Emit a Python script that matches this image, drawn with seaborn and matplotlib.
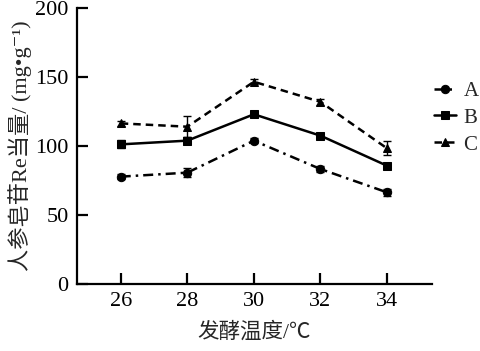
import pandas as pd
import matplotlib
matplotlib.use("Agg")
import matplotlib.pyplot as plt
import seaborn as sns

# ─── Data ─────────────────────────────────────────────────────────────────────
temps = [26, 28, 30, 32, 34]
groups = ["A", "B", "C"]
vals_a = [77.8, 80.7, 103.9, 83.3, 66.4]
vals_b = [101.2, 103.9, 123.0, 107.5, 85.7]
vals_c = [116.4, 114.0, 146.6, 132.0, 98.3]
err_a = [2.0, 3.5, 2.0, 2.0, 2.5]
err_b = [3.0, 2.5, 2.0, 2.0, 2.0]
err_c = [2.0, 7.5, 2.0, 2.0, 5.0]

x_label = "发酵温度/℃"
y_label = "人参皂苷Re当量/ (mg•g⁻¹)"

df = pd.DataFrame({
    "temp": temps * 3,
    "value": vals_a + vals_b + vals_c,
    "err": err_a + err_b + err_c,
    "group": [g for g in groups for _ in temps],
})

# ─── Style ────────────────────────────────────────────────────────────────────
sns.set_style("ticks")
plt.rcParams["font.family"] = ["Liberation Serif", "Noto Sans CJK SC", "DejaVu Serif"]
plt.rcParams.update({
    "axes.linewidth": 1.6,
    "xtick.direction": "in",
    "ytick.direction": "in",
    "xtick.major.size": 8,
    "ytick.major.size": 8,
    "xtick.major.width": 1.6,
    "ytick.major.width": 1.6,
    "axes.edgecolor": "black",
    "xtick.color": "black",
    "ytick.color": "black",
})

fig = plt.figure(figsize=(4.8, 3.51), dpi=100)
ax = fig.add_axes([0.16, 0.191, 0.74, 0.786])

markers = {"A": "o", "B": "s", "C": "^"}
dashes = {"A": (4, 2, 1, 2), "B": "", "C": (3, 2)}

sns.lineplot(
    data=df, x="temp", y="value", style="group",
    markers=markers, dashes=dashes, color="black",
    markersize=6, linewidth=1.8, markeredgecolor="black", ax=ax,
)
ax.errorbar(df["temp"], df["value"], yerr=df["err"], fmt="none",
            ecolor="black", elinewidth=1, capsize=3, capthick=1)

ax.set_xlim(24.68, 35.35)
ax.set_ylim(0, 200)
ax.set_xticks(temps)
ax.set_yticks([0, 50, 100, 150, 200])
ax.tick_params(labelsize=16, pad=6)
ax.set_xlabel(x_label, fontsize=15.5, labelpad=8)
ax.set_ylabel(y_label, fontsize=16, labelpad=2)
sns.despine(ax=ax)

ax.legend(frameon=False, loc="upper left", bbox_to_anchor=(0.995, 0.75),
          fontsize=15, handlelength=1.05, handletextpad=0.35,
          labelspacing=0.35, borderaxespad=0, borderpad=0.2)

fig.savefig("out.png", dpi=100)
